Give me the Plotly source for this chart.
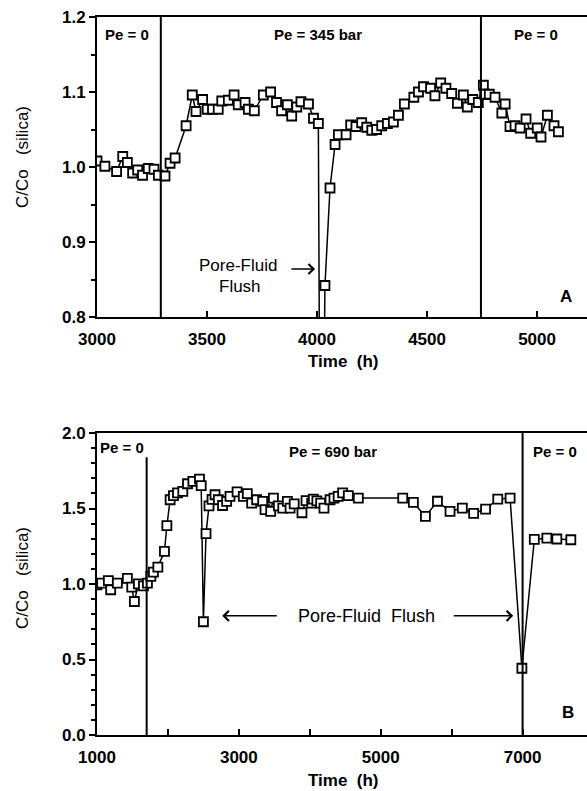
import plotly.graph_objects as go

# ---------------- Data ----------------
# Panel A: Pe = 0 / 345 bar / 0
time_a = [3000, 3036, 3089, 3117, 3138, 3162, 3185, 3207, 3233, 3259, 3279, 3309, 3332, 3355,
          3405, 3433, 3450, 3480, 3501, 3525, 3551, 3567, 3597, 3623, 3642, 3673, 3688, 3715,
          3756, 3789, 3816, 3839, 3865, 3885, 3908, 3927, 3961, 3984, 4006, 4018, 4036, 4059,
          4082, 4097, 4132, 4153, 4177, 4203, 4226, 4249, 4271, 4294, 4320, 4347, 4370, 4397,
          4440, 4461, 4484, 4516, 4536, 4562, 4586, 4612, 4638, 4665, 4683, 4708, 4733, 4756,
          4762, 4783, 4809, 4840, 4855, 4877, 4900, 4923, 4950, 4971, 5001, 5018, 5047, 5077,
          5097]
ratio_a = [1.008, 1.001, 0.994, 1.014, 1.006, 0.992, 0.996, 0.989, 0.998, 0.997, 0.989, 0.988,
           1.005, 1.012, 1.055, 1.096, 1.074, 1.090, 1.077, 1.077, 1.077, 1.088, 1.089, 1.096,
           1.083, 1.086, 1.077, 1.075, 1.096, 1.100, 1.086, 1.075, 1.083, 1.068, 1.080, 1.087,
           1.084, 1.065, 1.058, 0.30, 0.842, 0.972, 1.030, 1.043, 1.043, 1.056, 1.054, 1.059,
           1.053, 1.049, 1.050, 1.055, 1.058, 1.060, 1.069, 1.084, 1.093, 1.100, 1.107, 1.105,
           1.095, 1.112, 1.105, 1.098, 1.085, 1.096, 1.080, 1.090, 1.086, 1.109, 1.097, 1.097,
           1.093, 1.072, 1.084, 1.054, 1.055, 1.052, 1.064, 1.045, 1.052, 1.040, 1.069, 1.055,
           1.047]

# Panel B: Pe = 0 / 690 bar / 0
time_b = [1000, 1066, 1160, 1193, 1287, 1428, 1490, 1527, 1584, 1655, 1711, 1759, 1795, 1858,
          1951, 1985, 2031, 2078, 2135, 2210, 2276, 2352, 2445, 2469, 2500, 2537, 2579, 2622,
          2664, 2711, 2770, 2828, 2875, 2975, 3063, 3119, 3181, 3251, 3336, 3369, 3449, 3487,
          3557, 3619, 3684, 3722, 3780, 3890, 3947, 4027, 4050, 4100, 4153, 4200, 4285, 4341,
          4400, 4463, 4543, 4684, 5310, 5460, 5630, 5800, 5977, 6150, 6310, 6478, 6650, 6824,
          6990, 7165, 7342, 7483, 7680]
ratio_b = [0.995, 1.006, 1.023, 0.962, 1.006, 1.037, 0.979, 0.884, 1.001, 0.988, 1.006, 1.050,
           1.079, 1.112, 1.216, 1.386, 1.558, 1.585, 1.603, 1.614, 1.664, 1.680, 1.695, 1.651,
           0.750, 1.333, 1.518, 1.560, 1.591, 1.558, 1.520, 1.547, 1.580, 1.610, 1.580, 1.598,
           1.536, 1.558, 1.547, 1.492, 1.481, 1.569, 1.518, 1.503, 1.547, 1.503, 1.530, 1.472,
           1.552, 1.536, 1.562, 1.550, 1.536, 1.503, 1.558, 1.569, 1.580, 1.603, 1.585, 1.569,
           1.569, 1.540, 1.448, 1.548, 1.481, 1.503, 1.468, 1.496, 1.562, 1.569, 0.442, 1.295,
           1.304, 1.298, 1.293]

xticks_a = [3000, 3500, 4000, 4500, 5000]
xticks_b = [1000, 3000, 5000, 7000]
pressure_changes_a = [3290, 4745]
pressure_changes_b = [1700, 7000]

FONT = "Liberation Sans, Arial, Helvetica, sans-serif"
W, H = 587, 791

fig = go.Figure()

marker = dict(symbol="square", size=9, color="white", line=dict(color="black", width=1.8))
fig.add_trace(go.Scatter(x=time_a, y=ratio_a, mode="lines+markers", marker=marker,
                         line=dict(color="black", width=1.5), xaxis="x", yaxis="y",
                         showlegend=False))
fig.add_trace(go.Scatter(x=time_b, y=ratio_b, mode="lines+markers", marker=marker,
                         line=dict(color="black", width=1.5), xaxis="x2", yaxis="y2",
                         showlegend=False))

dom_a = [1 - 317 / H, 1 - 17 / H]
dom_b = [1 - 735 / H, 1 - 433 / H]

axis_common = dict(showline=True, linecolor="black", linewidth=2, showgrid=False, zeroline=False,
                   tickfont=dict(family=FONT, size=17, color="black", weight="bold"),
                   tickcolor="black", tickwidth=2, automargin=False)

fig.update_layout(
    width=W, height=H, margin=dict(l=97, r=0, t=0, b=0, pad=0, autoexpand=False),
    paper_bgcolor="white", plot_bgcolor="white",
    xaxis=dict(axis_common, domain=[0, 1], anchor="y", range=[3000, 5227], tickvals=xticks_a,
               ticks="inside", ticklen=6, mirror=True, ticklabelstandoff=6),
    yaxis=dict(axis_common, domain=dom_a, anchor="x", range=[0.8, 1.2], dtick=0.1,
               tickformat=".1f", ticks="outside", ticklen=6,
               minor=dict(dtick=0.05, ticks="outside", ticklen=4, tickcolor="black", tickwidth=2)),
    xaxis2=dict(axis_common, domain=[0, 1], anchor="y2", range=[1000, 7908], tickvals=xticks_b,
                ticks="inside", ticklen=6, mirror=True, ticklabelstandoff=6,
                minor=dict(tickvals=[2000, 4000, 6000], ticks="inside", ticklen=6,
                           tickcolor="black", tickwidth=2)),
    yaxis2=dict(axis_common, domain=dom_b, anchor="x2", range=[0, 2], dtick=0.5,
                tickformat=".1f", ticks="outside", ticklen=6,
                minor=dict(dtick=0.1, ticks="outside", ticklen=4, tickcolor="black", tickwidth=2)),
)

# Vertical lines marking pressure changes
for xv in pressure_changes_a:
    fig.add_shape(type="line", xref="x", yref="y", x0=xv, x1=xv, y0=0.8, y1=1.2,
                  line=dict(color="black", width=2))
fig.add_shape(type="line", xref="x2", yref="y2", x0=pressure_changes_b[0], x1=pressure_changes_b[0],
              y0=0, y1=1.84, line=dict(color="black", width=2))
fig.add_shape(type="line", xref="x2", yref="y2", x0=pressure_changes_b[1], x1=pressure_changes_b[1],
              y0=0, y1=2.0, line=dict(color="black", width=2))

def txt(text, x, y, xref, yref, size=14, bold=True, **kw):
    fig.add_annotation(text=text, x=x, y=y, xref=xref, yref=yref, showarrow=False,
                       xanchor="center", yanchor="middle",
                       font=dict(family=FONT, size=size, color="black",
                                 weight="bold" if bold else "normal"), **kw)

# Panel A texts
txt("Pe = 0", 3136, 1.176, "x", "y", 15)
txt("Pe = 345 bar", 4005, 1.176, "x", "y", 15)
txt("Pe = 0", 4995, 1.176, "x", "y", 15)
txt("Pore-Fluid", 3641, 0.869, "x", "y", 17, bold=False)
txt("Flush", 3650, 0.840, "x", "y", 17, bold=False)
txt("A", 5132, 0.827, "x", "y", 17)
fig.add_annotation(x=3991, y=0.864, ax=3877, ay=0.864, xref="x", yref="y", axref="x", ayref="y",
                   text="", showarrow=True, arrowhead=4, arrowsize=1.3, arrowwidth=1.5,
                   arrowcolor="black")

# Panel B texts
txt("Pe = 0", 1357, 1.903, "x2", "y2", 15)
txt("Pe = 690 bar", 4332, 1.877, "x2", "y2", 15)
txt("Pe = 0", 7461, 1.877, "x2", "y2", 15)
txt("Pore-Fluid  Flush", 4797, 0.789, "x2", "y2", 18, bold=False)
txt("B", 7645, 0.146, "x2", "y2", 17)
fig.add_annotation(x=2766, y=0.789, ax=3555, ay=0.789, xref="x2", yref="y2", axref="x2",
                   ayref="y2", text="", showarrow=True, arrowhead=4, arrowsize=1.3,
                   arrowwidth=1.5, arrowcolor="black")
fig.add_annotation(x=6868, y=0.789, ax=6008, ay=0.789, xref="x2", yref="y2", axref="x2",
                   ayref="y2", text="", showarrow=True, arrowhead=4, arrowsize=1.3,
                   arrowwidth=1.5, arrowcolor="black")

# Axis titles
txt("C/Co   (silica)", (22 - 97) / 490, 1 - 157 / H, "paper", "paper", 17, bold=False,
    textangle=-90)
txt("C/Co   (silica)", (22 - 97) / 490, 1 - 578 / H, "paper", "paper", 17, bold=False,
    textangle=-90)
txt("Time  (h)", (343 - 97) / 490, 1 - 362 / H, "paper", "paper", 17)
txt("Time  (h)", (343 - 97) / 490, 1 - 780 / H, "paper", "paper", 17)

fig.write_html("out.html",
               config={"displayModeBar": False},
               post_script="document.body.style.margin='0';"
                           "document.body.style.overflow='hidden';")
